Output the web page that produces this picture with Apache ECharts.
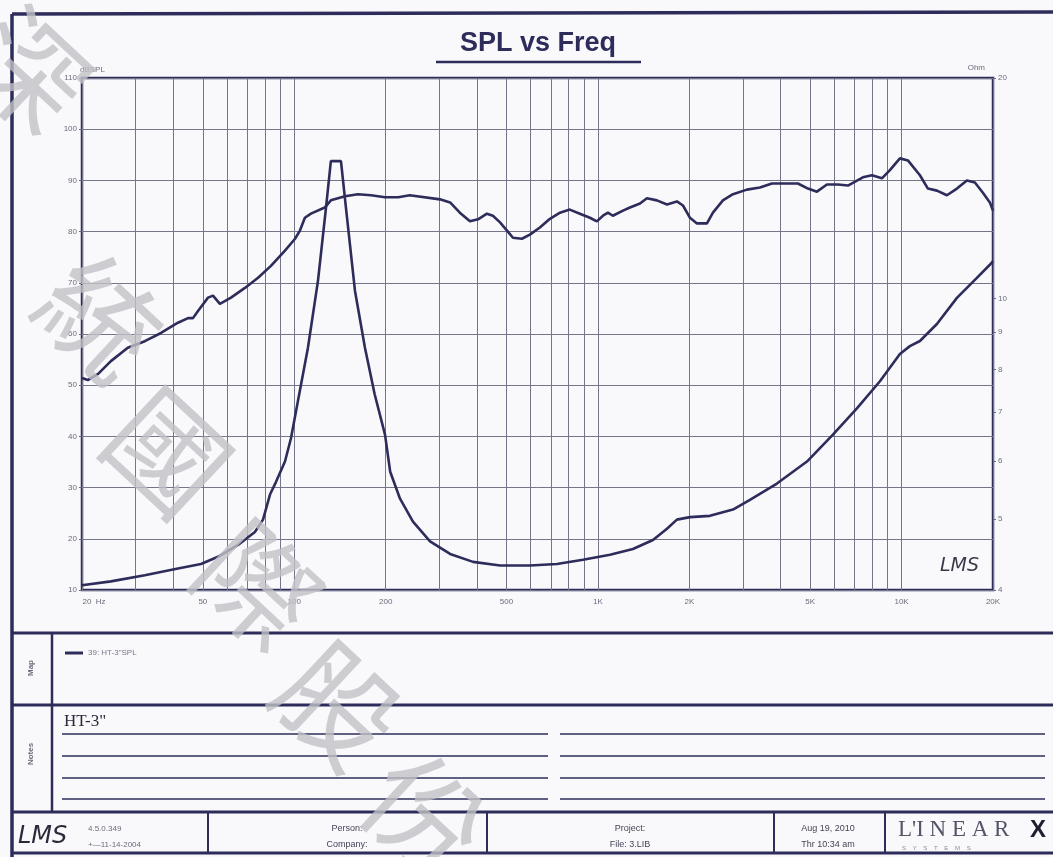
<!DOCTYPE html>
<html>
<head>
<meta charset="utf-8">
<script src="https://cdn.jsdelivr.net/npm/echarts@6/dist/echarts.min.js"></script>
<style>
  html, body { margin: 0; padding: 0; background: #f9f9fc; }
  #chart { width: 1053px; height: 857px; }
</style>
</head>
<body>
<div id="chart"></div>
<script>
// SPL curve (left axis, dB)
let splFreq = [20, 20.9, 22.6, 24.9, 28.3, 32.2, 36.4, 41.4, 44.7, 46.4, 48.2, 52, 54, 56.9, 61.9, 68.8, 76, 83.8, 93.2, 100.6,
    104.4, 108.4, 113.5, 126, 132, 147, 162, 179, 199, 220, 240, 302, 326, 351, 379, 403, 431, 451, 476, 502,
    525, 562, 597, 644, 695, 750, 808, 872, 941, 992, 1039, 1079, 1120, 1209, 1275, 1376, 1450, 1564, 1688, 1820,
    1906, 2010, 2119, 2286, 2392, 2580, 2784, 3095, 3416, 3741, 4192, 4558, 4916, 5264, 5677, 6171, 6658, 7457, 7987, 8616,
    9152, 9873, 10492, 11492, 12208, 13072, 14102, 15213, 16408, 17434, 18525, 19530, 20000];
let splDb = [51.4, 51.0, 52.2, 54.7, 57.3, 58.6, 60.2, 62.2, 63.1, 63.1, 64.5, 67.1, 67.5, 65.9, 67.1, 69.0, 71.0, 73.3, 76.3, 78.6,
    80.2, 82.7, 83.5, 84.7, 86.1, 86.9, 87.3, 87.1, 86.7, 86.7, 87.1, 86.3, 85.7, 83.7, 82.0, 82.4, 83.5, 83.1, 81.8, 80.2,
    78.8, 78.6, 79.4, 80.8, 82.5, 83.7, 84.3, 83.5, 82.7, 82.0, 83.1, 83.7, 83.1, 84.1, 84.7, 85.5, 86.5, 86.1, 85.3, 85.9,
    85.1, 82.7, 81.6, 81.6, 83.7, 86.1, 87.3, 88.2, 88.6, 89.4, 89.4, 89.4, 88.4, 87.8, 89.2, 89.2, 89.0, 90.6, 91.0, 90.4,
    92.0, 94.3, 93.9, 91.0, 88.4, 88.0, 87.1, 88.4, 90.0, 89.6, 87.6, 85.7, 84.1];

// impedance curve (right axis, Ohm)
let impFreq = [20, 24.9, 32.2, 41.4, 49.3, 56.1, 65.3, 74.2, 78.9, 83.2, 87.1, 93.2, 97.5, 102.8, 110.9, 119.7, 127.2, 132, 142.5, 148,
    158.5, 171, 184, 199, 207, 223, 246, 280, 326, 388, 476, 597, 733, 893, 1096, 1304, 1518, 1688, 1820, 2010,
    2338, 2784, 3166, 3886, 4880, 5941, 7126, 8486, 9873, 10650, 11492, 13072, 15213, 17700, 19820, 20000];
let impOhm = [4.06, 4.11, 4.19, 4.28, 4.34, 4.44, 4.61, 4.80, 4.99, 5.40, 5.62, 5.99, 6.44, 7.24, 8.56, 10.57, 13.3, 15.4, 15.4, 13.3,
    10.24, 8.56, 7.40, 6.52, 5.80, 5.33, 4.96, 4.66, 4.48, 4.37, 4.32, 4.32, 4.34, 4.40, 4.47, 4.55, 4.68, 4.85, 4.99, 5.03,
    5.05, 5.15, 5.31, 5.59, 5.99, 6.52, 7.08, 7.71, 8.40, 8.61, 8.75, 9.23, 10.02, 10.67, 11.19, 11.25];

// axis ticks / labels
let gridFreqs = [20, 30, 40, 50, 60, 70, 80, 90, 100, 200, 300, 400, 500, 600, 700, 800, 900,
    1000, 2000, 3000, 4000, 5000, 6000, 7000, 8000, 9000, 10000, 20000];
let xLabelFreqs = [20, 50, 100, 200, 500, 1000, 2000, 5000, 10000, 20000];
let xLabelText = ['20  Hz', '50', '100', '200', '500', '1K', '2K', '5K', '10K', '20K'];
let ohmLabels = [4, 5, 6, 7, 8, 9, 10, 20];
let watermarkChars = ['深', '統', '國', '際', '股', '份'];

let ink = '#2d2c5a';
let gridInk = '#74748a';
let faint = '#6b6b7c';

function main_chart(){
    let myChart = echarts.init(document.getElementById('chart'));

    let splData = splFreq.map(function(f, i){ return [f, splDb[i]]; });
    let impData = impFreq.map(function(f, i){ return [f, impOhm[i]]; });

    let sheet = [];
    // outer frame and section rules
    let rule = function(x1, y1, x2, y2, w){
        sheet.push({type: 'line', shape: {x1: x1, y1: y1, x2: x2, y2: y2}, style: {stroke: ink, lineWidth: w}, silent: true});
    };
    rule(12, 14, 1053, 12, 3.5);
    rule(12, 14, 12, 857, 3.5);
    rule(12, 633, 1053, 633, 3);
    rule(12, 705, 1053, 705, 3);
    rule(52, 633, 52, 812, 2.5);
    rule(12, 812, 1053, 812, 3);
    rule(12, 853, 1053, 853, 3);
    [208, 487, 774, 885].forEach(function(x){ rule(x, 812, x, 853, 2); });
    [734, 756, 778, 799].forEach(function(y){
        rule(62, y, 548, y, 1.5);
        rule(560, y, 1045, y, 1.5);
    });

    let txt = function(x, y, s, font, opt){
        let o = {type: 'text', x: x, y: y, silent: true,
            style: {text: s, font: font, fill: (opt && opt.fill) || faint, align: (opt && opt.align) || 'left', verticalAlign: 'middle'}};
        if (opt && opt.rotation) o.rotation = opt.rotation;
        sheet.push(o);
    };
    // title
    txt(538, 44, 'SPL vs Freq', 'bold 27px "Liberation Sans"', {fill: ink, align: 'center'});
    rule(436, 62, 641, 62, 2.5);
    // LMS mark inside plot
    txt(940, 566, 'LMS', 'italic 19px "DejaVu Sans"', {fill: '#3a3a4a'});
    // map / notes
    txt(31, 668, 'Map', 'bold 8px "Liberation Sans"', {align: 'center', rotation: Math.PI / 2});
    txt(31, 754, 'Notes', 'bold 8px "Liberation Sans"', {align: 'center', rotation: Math.PI / 2});
    txt(64, 722, 'HT-3"', '17px "Liberation Serif"', {fill: '#2a2a3a'});
    // footer
    txt(18, 837, 'LMS', 'italic 24px "DejaVu Sans"', {fill: '#2a2a3a'});
    txt(88, 829, '4.5.0.349', '8px "Liberation Sans"');
    txt(88, 845, '+—11-14-2004', '8px "Liberation Sans"');
    txt(347, 829, 'Person:', '9px "Liberation Sans"', {align: 'center', fill: '#444456'});
    txt(347, 845, 'Company:', '9px "Liberation Sans"', {align: 'center', fill: '#444456'});
    txt(630, 829, 'Project:', '9px "Liberation Sans"', {align: 'center', fill: '#444456'});
    txt(630, 845, 'File: 3.LIB', '9px "Liberation Sans"', {align: 'center', fill: '#444456'});
    txt(828, 829, 'Aug 19, 2010', '9px "Liberation Sans"', {align: 'center', fill: '#444456'});
    txt(828, 845, 'Thr 10:34 am', '9px "Liberation Sans"', {align: 'center', fill: '#444456'});
    txt(898, 830, 'L\'I N E A R', '23px "Liberation Serif"', {fill: '#55556a'});
    txt(1030, 830, 'X', 'bold 24px "Liberation Sans"', {fill: '#1e1e2e'});
    txt(902, 848, 'S    Y    S    T    E    M    S', '6px "Liberation Sans"', {fill: '#8a8a9a'});
    // watermark
    let wmPos = [[28, 70], [100, 318], [168, 452], [258, 585], [338, 705], [425, 815]];
    wmPos.forEach(function(p, i){
        sheet.push({type: 'text', x: p[0], y: p[1], rotation: -0.75, z: 100, silent: true,
            style: {text: watermarkChars[i], font: '116px "Noto Sans CJK TC"', fill: 'rgba(192,192,198,0.8)',
                align: 'center', verticalAlign: 'middle'}});
    });

    let option = {
        backgroundColor: '#f9f9fc',
        animation: false,
        legend: {
            left: 60, top: 644,
            data: ['39: HT-3"SPL'],
            icon: 'rect', itemWidth: 18, itemHeight: 3, itemGap: 4,
            textStyle: {fontSize: 8, color: '#77778a', fontFamily: 'Liberation Sans'}
        },
        grid: {
            left: 82, right: 60, top: 78, bottom: 267,
            show: true, borderColor: ink, borderWidth: 2.5, backgroundColor: 'transparent'
        },
        xAxis: {
            type: 'log', logBase: 10, min: 20, max: 20000,
            axisLine: {show: false},
            axisTick: {show: false, customValues: gridFreqs},
            splitLine: {show: true, lineStyle: {color: gridInk, width: 1}},
            axisLabel: {
                customValues: xLabelFreqs, fontSize: 8, color: faint, margin: 8,
                fontFamily: 'Liberation Sans',
                formatter: function(v){
                    let i = xLabelFreqs.indexOf(Math.round(v));
                    return i === 0 ? '{a|' + xLabelText[0] + '}' : (i > 0 ? xLabelText[i] : '');
                },
                rich: {a: {fontSize: 8, color: faint, padding: [0, 0, 0, 24]}}
            }
        },
        yAxis: [{
            type: 'value', min: 10, max: 110, interval: 10, position: 'left',
            name: 'dBSPL', nameLocation: 'end', nameGap: 4,
            nameTextStyle: {fontSize: 8, color: faint, align: 'left', padding: [0, 0, 0, -2]},
            axisLine: {show: false},
            axisTick: {show: true, length: 3, lineStyle: {color: faint}},
            splitLine: {show: true, lineStyle: {color: gridInk, width: 1}},
            axisLabel: {fontSize: 8, color: faint, margin: 5, fontFamily: 'Liberation Sans'}
        }, {
            type: 'log', logBase: 10, min: 4, max: 20, position: 'right',
            name: 'Ohm', nameLocation: 'end', nameGap: 6,
            nameTextStyle: {fontSize: 8, color: faint, align: 'right', padding: [0, 8, 0, 0]},
            axisLine: {show: false},
            axisTick: {show: true, length: 3, customValues: ohmLabels, lineStyle: {color: faint}},
            splitLine: {show: false},
            axisLabel: {customValues: ohmLabels, fontSize: 8, color: faint, margin: 5, fontFamily: 'Liberation Sans'}
        }],
        series: [{
            name: '39: HT-3"SPL',
            type: 'line', yAxisIndex: 0,
            data: splData, showSymbol: false,
            lineStyle: {color: ink, width: 2.6},
            itemStyle: {color: ink}
        }, {
            name: 'Impedance',
            type: 'line', yAxisIndex: 1,
            data: impData, showSymbol: false,
            lineStyle: {color: ink, width: 2.6},
            itemStyle: {color: ink}
        }],
        graphic: sheet
    };
    myChart.setOption(option);
}
main_chart();
</script>
</body>
</html>
